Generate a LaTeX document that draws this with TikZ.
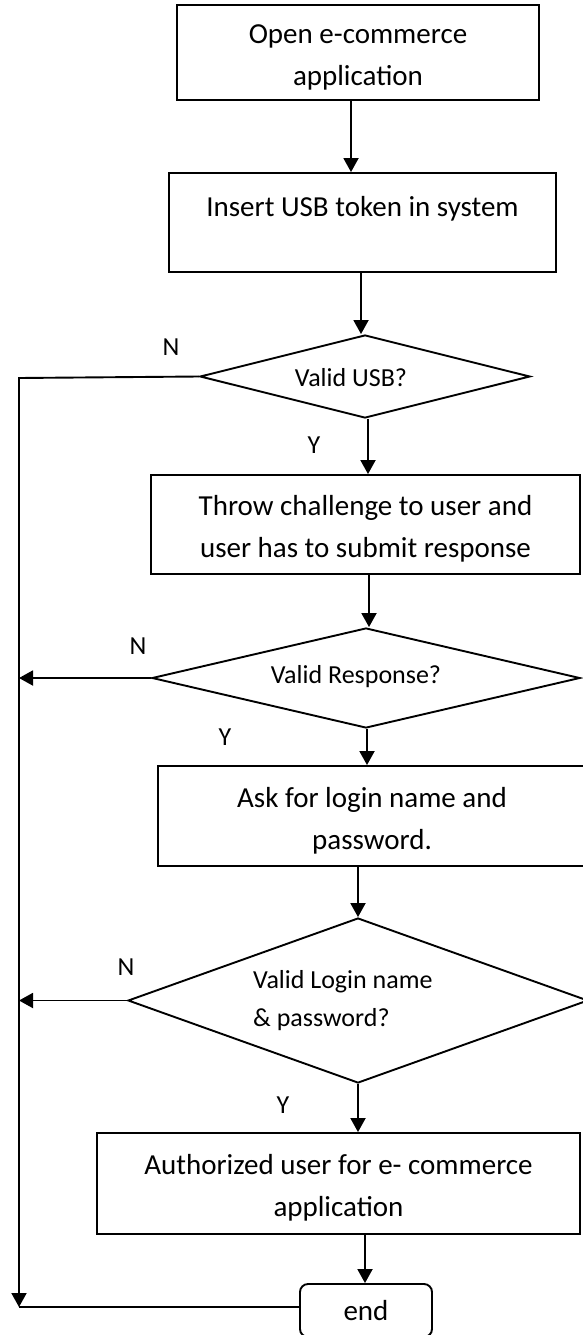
\documentclass[tikz,border=0pt]{standalone}
\usepackage{fontspec}
\setmainfont{Carlito}
\usetikzlibrary{shapes.geometric,arrows.meta}
% tall strut opening the first line of a process box
\newcommand\firstline{\rule{0pt}{29pt}}
\begin{document}
\begin{tikzpicture}[x=1pt,y=-1pt,
  box/.style={draw,line width=1.9pt,inner sep=0pt,align=center,
              font=\fontsize{29}{42}\selectfont},
  dec/.style={draw,diamond,line width=1.9pt,inner sep=0pt},
  dtext/.style={inner sep=0pt,font=\fontsize{26}{38}\selectfont},
  yn/.style={inner sep=0pt,font=\fontsize{26}{30}\selectfont},
  flow/.style={line width=1.9pt},
  arr/.style={flow,-{Triangle[length=14pt,width=15pt]}},
]
\useasboundingbox (0,0) rectangle (583,1335);

% process boxes
\node[box,minimum width=362,minimum height=95]  (b1) at (358,52.5)   {\firstline Open e-commerce\\application};
\node[box,minimum width=387,minimum height=99]  (b2) at (362.5,222.5) {\firstline Insert USB token in system\\~};
\node[box,minimum width=429,minimum height=99]  (b3) at (365.5,524.5) {\firstline Throw challenge to user and\\user has to submit response};
\node[box,minimum width=428,minimum height=100] (b4) at (372,816)    {\firstline Ask for login name and\\password.};
\node[box,minimum width=483,minimum height=101] (b5) at (338.5,1183.5) {\firstline Authorized user for e- commerce\\application};
\node[box,rounded corners=8pt,minimum width=132,minimum height=53] (endb) at (366,1310.5) {end};

% decisions
\node[dec,minimum width=330,minimum height=83]  (d1) at (365,376.5) {};
\node[dec,minimum width=428,minimum height=100] (d2) at (366,678)   {};
\node[dec,minimum width=460,minimum height=165] (d3) at (358,1000.5) {};
\node[dtext] (t1) at (351,378) {Valid USB?};
\node[dtext] (t2) at (356,677) {Valid Response?};
\node[dtext,align=left,anchor=west] (t3) at (253,1001) {Valid Login name\\\& password?};

% branch labels
\node[yn] (n1) at (171,347)  {N};
\node[yn] (y1) at (314,445)  {Y};
\node[yn] (n2) at (138,646)  {N};
\node[yn] (y2) at (225,737)  {Y};
\node[yn] (n3) at (126,967)  {N};
\node[yn] (y3) at (283,1105) {Y};

% main flow
\draw[arr] ([xshift=-7]b1.south)   -- ([xshift=-7]b1.south |- b2.north);
\draw[arr] ([xshift=-1.5]b2.south) -- ([xshift=-1.5]b2.south |- d1.north);
\draw[arr] ([xshift=3]d1.south)    -- ([xshift=3]d1.south |- b3.north);
\draw[arr] ([xshift=3.5]b3.south)  -- ([xshift=3.5]b3.south |- d2.north);
\draw[arr] ([xshift=1]d2.south)    -- ([xshift=1]d2.south |- b4.north);
\draw[arr] ([xshift=-14]b4.south)  -- ([xshift=-14]b4.south |- d3.north);
\draw[arr] (d3.south) -- (d3.south |- b5.north);
\draw[arr] ([xshift=26.5]b5.south) -- ([xshift=26.5]b5.south |- endb.north);

% rejection path on the left
\coordinate (lt) at (19,378);
\coordinate (lb) at (19,1307);
\draw[arr] (d1.west) -- (lt) -- (lb);
\draw[arr] (d2.west) -- (d2.west -| lt);
\draw[arr] (d3.west) -- (d3.west -| lt);
\draw[flow] (lb) -- (lb -| endb.west);
\end{tikzpicture}
\end{document}
